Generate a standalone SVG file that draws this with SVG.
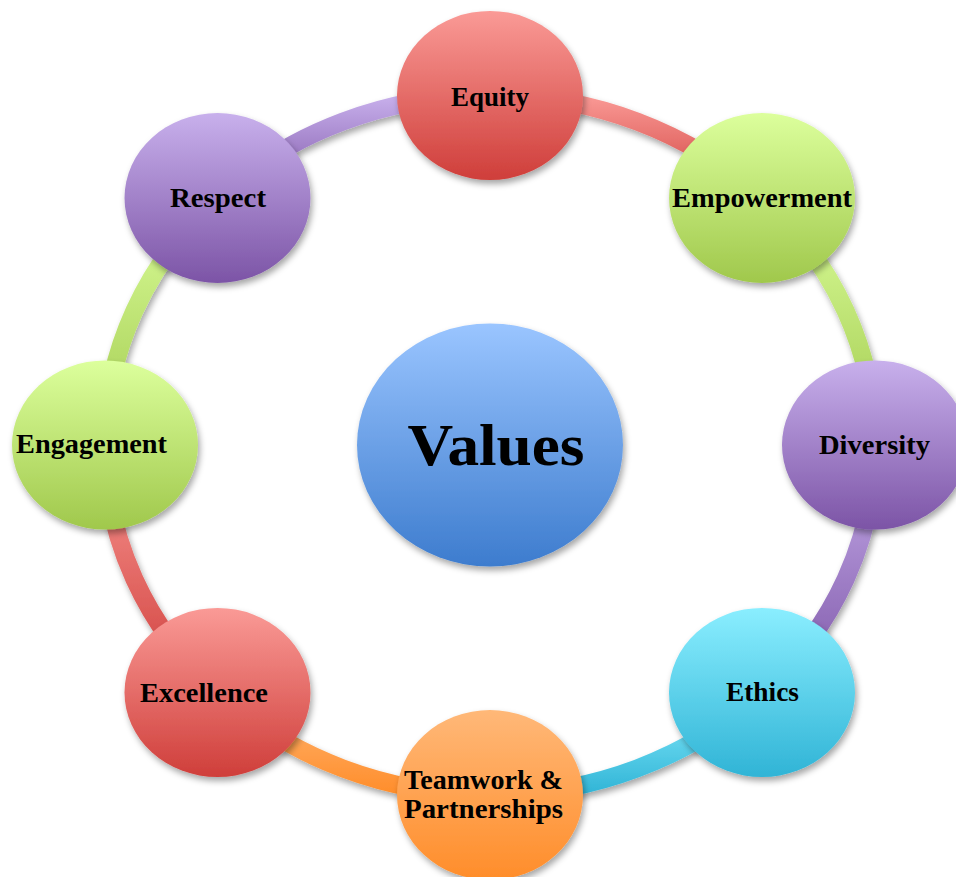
<svg xmlns="http://www.w3.org/2000/svg" width="956" height="877" viewBox="0 0 956 877">
<defs>
<linearGradient id="gRed" x1="0" y1="0" x2="0" y2="1"><stop offset="0" stop-color="#FA9A96"/><stop offset="1" stop-color="#CF3E3A"/></linearGradient>
<linearGradient id="gGreen" x1="0" y1="0" x2="0" y2="1"><stop offset="0" stop-color="#DCFF9C"/><stop offset="1" stop-color="#A0C84C"/></linearGradient>
<linearGradient id="gPurple" x1="0" y1="0" x2="0" y2="1"><stop offset="0" stop-color="#C8B0EC"/><stop offset="1" stop-color="#7C54A6"/></linearGradient>
<linearGradient id="gCyan" x1="0" y1="0" x2="0" y2="1"><stop offset="0" stop-color="#8AEEFF"/><stop offset="1" stop-color="#30B4D6"/></linearGradient>
<linearGradient id="gOrange" x1="0" y1="0" x2="0" y2="1"><stop offset="0" stop-color="#FFB878"/><stop offset="1" stop-color="#FF8D2A"/></linearGradient>
<linearGradient id="gBlue" x1="0" y1="0" x2="0" y2="1"><stop offset="0" stop-color="#9AC5FF"/><stop offset="1" stop-color="#3D7CCE"/></linearGradient>
<filter id="sh" x="-20%" y="-20%" width="140%" height="140%">
<feDropShadow dx="2" dy="4" stdDeviation="3" flood-color="#000" flood-opacity="0.35"/>
</filter>
</defs>
<style>
.seg{fill:none;stroke-width:18;filter:url(#sh)}
.node{filter:url(#sh)}
.lbl{font-family:"Liberation Serif","Times New Roman",serif;font-weight:bold;font-size:27px;fill:#000;text-anchor:middle}
.big{font-size:60px}
</style>
<rect width="956" height="877" fill="#fff"/>
<g id="connectors">
<path class="seg" stroke="url(#gRed)" d="M490,95 A385,350 0 0 1 762.2,197.5"/>
<path class="seg" stroke="url(#gGreen)" d="M762.2,197.5 A385,350 0 0 1 875,445"/>
<path class="seg" stroke="url(#gPurple)" d="M875,445 A385,350 0 0 1 762.2,692.5"/>
<path class="seg" stroke="url(#gCyan)" d="M762.2,692.5 A385,350 0 0 1 490,795"/>
<path class="seg" stroke="url(#gOrange)" d="M490,795 A385,350 0 0 1 217.8,692.5"/>
<path class="seg" stroke="url(#gRed)" d="M217.8,692.5 A385,350 0 0 1 105,445"/>
<path class="seg" stroke="url(#gGreen)" d="M105,445 A385,350 0 0 1 217.8,197.5"/>
<path class="seg" stroke="url(#gPurple)" d="M217.8,197.5 A385,350 0 0 1 490,95"/>
</g>
<g id="values">
<ellipse class="node" cx="490" cy="445" rx="133" ry="121.5" fill="url(#gBlue)"/>
<text class="lbl big" x="496" y="465" textLength="177" lengthAdjust="spacingAndGlyphs">Values</text>
</g>
<g id="equity">
<ellipse class="node" cx="490" cy="95.5" rx="93" ry="84.5" fill="url(#gRed)"/>
<text class="lbl" x="490" y="106" textLength="78" lengthAdjust="spacingAndGlyphs">Equity</text>
</g>
<g id="empowerment">
<ellipse class="node" cx="762" cy="198" rx="93" ry="85" fill="url(#gGreen)"/>
<text class="lbl" x="762" y="207" textLength="180" lengthAdjust="spacingAndGlyphs">Empowerment</text>
</g>
<g id="diversity">
<ellipse class="node" cx="875" cy="445" rx="93" ry="84.5" fill="url(#gPurple)"/>
<text class="lbl" x="874.5" y="454" textLength="111" lengthAdjust="spacingAndGlyphs">Diversity</text>
</g>
<g id="ethics">
<ellipse class="node" cx="762" cy="692.5" rx="93" ry="84.5" fill="url(#gCyan)"/>
<text class="lbl" x="762.5" y="701" textLength="73" lengthAdjust="spacingAndGlyphs">Ethics</text>
</g>
<g id="teamwork">
<ellipse class="node" cx="490" cy="795" rx="93" ry="85" fill="url(#gOrange)"/>
<text class="lbl" x="483.5" y="789" textLength="159" lengthAdjust="spacingAndGlyphs">Teamwork &amp;</text>
<text class="lbl" x="483.5" y="818" textLength="159" lengthAdjust="spacingAndGlyphs">Partnerships</text>
</g>
<g id="excellence">
<ellipse class="node" cx="217.5" cy="692.5" rx="93" ry="84.5" fill="url(#gRed)"/>
<text class="lbl" x="204" y="702" textLength="128" lengthAdjust="spacingAndGlyphs">Excellence</text>
</g>
<g id="engagement">
<ellipse class="node" cx="105" cy="445" rx="93" ry="84.5" fill="url(#gGreen)"/>
<text class="lbl" x="91.5" y="453" textLength="151" lengthAdjust="spacingAndGlyphs">Engagement</text>
</g>
<g id="respect">
<ellipse class="node" cx="217.5" cy="198" rx="93" ry="85" fill="url(#gPurple)"/>
<text class="lbl" x="218" y="207" textLength="96" lengthAdjust="spacingAndGlyphs">Respect</text>
</g>
</svg>
